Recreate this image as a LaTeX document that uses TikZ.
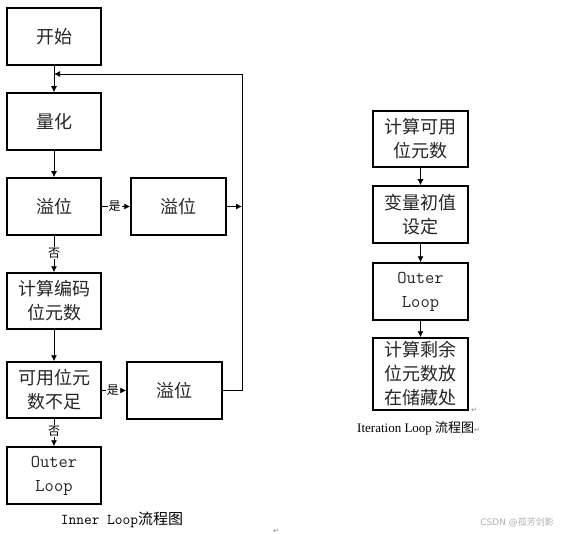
\documentclass[tikz,border=0pt]{standalone}
\usepackage{fontspec}
\newfontfamily\cjk{Noto Sans CJK SC}
\newfontfamily\djv{DejaVu Sans}
\newfontfamily\tms{Liberation Serif}
\usetikzlibrary{arrows.meta}
\begin{document}
\begin{tikzpicture}[x=1pt,y=-1pt,
  box/.style={draw,line width=1.5pt,minimum width=94pt,minimum height=57pt,inner sep=0pt,align=center,
    font=\cjk\fontsize{18}{24}\selectfont,text=black!85},
  mono/.style={font=\ttfamily\fontsize{18}{24}\selectfont},
  conn/.style={line width=0.9pt,-{Latex[length=6pt,width=6pt]}},
  plain/.style={line width=0.9pt},
  lbl/.style={fill=white,inner sep=1pt,font=\cjk\fontsize{12}{12}\selectfont},
  ret/.style={font=\djv\fontsize{7}{7}\selectfont,text=black!50,inner sep=0pt}]
\useasboundingbox[fill=white] (0,0) rectangle (561,534);
% inner loop
\node[box] (start) at (54,36.5) {开始};
\node[box] (quant) at (54,121.5) {量化};
\node[box] (ovf1) at (54,206.5) {溢位};
\node[box,minimum width=95pt] (ovf2) at (178.5,206.5) {溢位};
\node[box,minimum height=56pt] (calc) at (54,301) {计算编码\\位元数};
\node[box,minimum height=56pt] (avail) at (54,390) {可用位元\\数不足};
\node[box,minimum width=95pt] (ovf3) at (174.5,390.5) {溢位};
\node[box,mono] (outer) at (54,475.5) {Outer\\Loop};
\coordinate (join) at (54,74);
\coordinate (loopT) at (242,74);
\coordinate (loopB) at (242,390.5);
\coordinate (loopM) at (242,206.5);
\draw[conn] (start) -- (quant);
\draw[conn] (quant) -- (ovf1);
\draw[conn] (ovf1) -- node[lbl,pos=0.47]{否} (calc);
\draw[conn] (calc) -- (avail);
\draw[conn] (avail) -- node[lbl,pos=0.45]{否} (outer);
\draw[conn] (ovf1) -- node[lbl,pos=0.45]{是} (ovf2);
\draw[conn] (avail.east|-ovf3) -- node[lbl,pos=0.45]{是} (ovf3);
\draw[conn] (ovf2) -- (loopM);
\draw[conn] (ovf3.east) -- (loopB) -- (loopT) -- (join);
\node[font=\fontsize{15}{15}\selectfont] (cap1) at (122,520) {\ttfamily Inner Loop\cjk 流程图};
\node[ret] (r0) at (276,531) {↵};
% iteration loop
\node[box,minimum width=95pt,minimum height=56pt] (i1) at (420.5,139) {计算可用\\位元数};
\node[box,minimum width=95pt] (i2) at (420.5,214.5) {变量初值\\设定};
\node[box,minimum width=95pt,mono] (i3) at (420.5,291.5) {Outer\\Loop};
\node[box,minimum width=95pt,minimum height=72pt] (i4) at (420.5,374) {计算剩余\\位元数放\\在储藏处};
\draw[conn] (i1) -- (i2);
\draw[conn] (i2) -- (i3);
\draw[conn] (i3) -- (i4);
\node[ret] (r1) at (474,410) {↵};
\node[anchor=west,inner sep=0pt] (cap2) at (357,428) {\tms\fontsize{13}{13}\selectfont Iteration Loop {\cjk 流程图}{\djv\fontsize{7}{7}\selectfont\color{black!50}↵}};
\node[anchor=east,inner sep=0pt,text=black!30] (wm) at (554,522) {\djv\fontsize{9}{9}\selectfont CSDN @{\cjk 孤芳剑影}};
\end{tikzpicture}
\end{document}
